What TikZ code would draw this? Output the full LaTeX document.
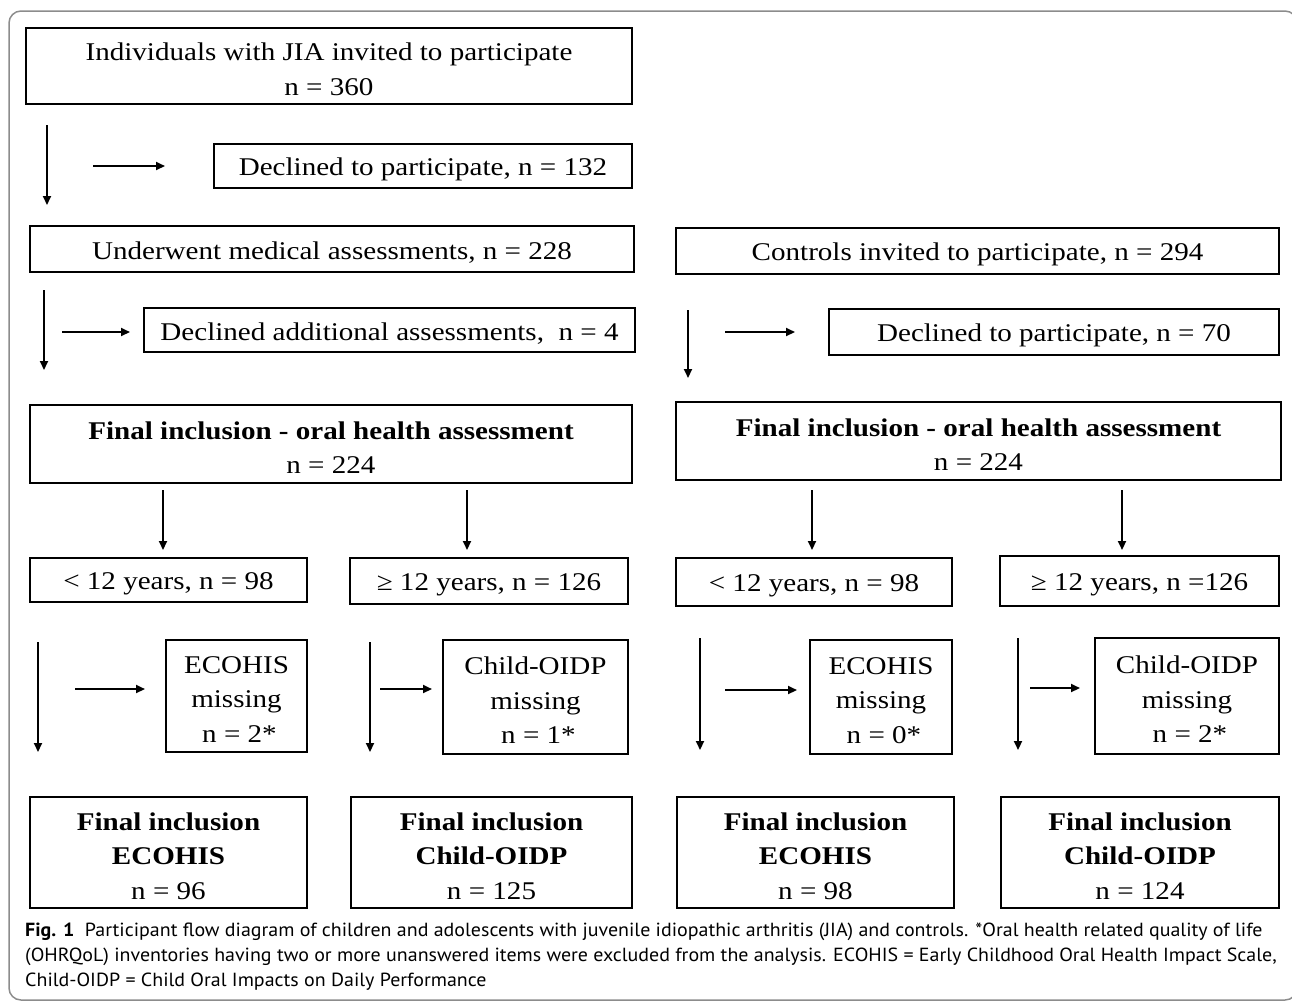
\documentclass[tikz,border=0pt]{standalone}
\usepackage{fontspec}
\setmainfont{Liberation Serif}[FakeStretch=1.14]
\newfontfamily\capfont{PT Sans}[FakeStretch=1.05]
\usetikzlibrary{arrows.meta}
\tikzset{
  box/.style={draw, line width=1.4pt, inner sep=0pt},
  boxtext/.style={inner sep=0pt, align=center, font=\fontsize{25.5}{34.5}\selectfont},
  arr/.style={line width=2pt, -{Triangle[length=9pt,width=8pt]}},
  captxt/.style={anchor=base west, inner sep=0pt, font=\capfont\fontsize{19}{22}\selectfont}
}
\newcommand{\bx}[6]{\node[box, minimum width=#4pt, minimum height=#5pt] (#1) at (#2,#3) {};
  \node[boxtext] (#1t) at ([yshift=-3.5pt]#1.center) {#6};}
\begin{document}
\begin{tikzpicture}[x=1pt,y=-1pt]
\useasboundingbox (0,0) rectangle (1292,1002);
\draw[black!45, line width=1.5pt, rounded corners=12pt] (9,11) rectangle (1297,1000);
% left column
\bx{b1}{329}{66}{606}{76}{Individuals with JIA invited to participate\\n = 360}
\bx{dec1}{423}{166}{418}{44}{Declined to participate, n = 132}
\bx{und}{332}{249}{604}{46}{Underwent medical assessments, n = 228}
\bx{dec2}{389.5}{330}{491}{44}{Declined additional assessments,\ \ n = 4}
\bx{finL}{331}{444}{602}{78}{\textbf{Final inclusion - oral health assessment}\\n = 224}
\bx{ltL}{168.5}{580}{277}{44}{< 12 years, n = 98}
\bx{geL}{489}{581}{278}{46}{≥ 12 years, n = 126}
\bx{ecoL}{236.5}{696}{141}{112}{ECOHIS\\missing\\\hspace*{6pt}n = 2*}
\bx{oidpL}{535.5}{697}{185}{114}{Child-OIDP\\missing\\\hspace*{6pt}n = 1*}
\bx{fEL}{168.5}{852.5}{277}{111}{\textbf{Final inclusion}\\\textbf{ECOHIS}\\n = 96}
\bx{fOL}{491.5}{852.5}{281}{111}{\textbf{Final inclusion}\\\textbf{Child-OIDP}\\n = 125}
% right column
\bx{con}{977.5}{251}{603}{46}{Controls invited to participate, n = 294}
\bx{dec3}{1054}{332}{450}{46}{Declined to participate, n = 70}
\bx{finR}{978.5}{441}{605}{78}{\textbf{Final inclusion - oral health assessment}\\n = 224}
\bx{ltR}{814}{582}{276}{48}{< 12 years, n = 98}
\bx{geR}{1139.5}{581}{279}{50}{≥ 12 years, n =126}
\bx{ecoR}{881}{697}{142}{114}{ECOHIS\\missing\\\hspace*{6pt}n = 0*}
\bx{oidpR}{1187}{696}{184}{116}{Child-OIDP\\missing\\\hspace*{6pt}n = 2*}
\bx{fER}{815.5}{852.5}{277}{111}{\textbf{Final inclusion}\\\textbf{ECOHIS}\\n = 98}
\bx{fOR}{1140}{852.5}{278}{111}{\textbf{Final inclusion}\\\textbf{Child-OIDP}\\n = 124}
% arrow end points
\foreach \n/\x/\y in {a1s/47/125, a1e/47/205, a2s/93/166, a2e/165/166,
  a3s/44/290, a3e/44/370, a4s/62/332, a4e/130/332,
  a5s/163/490, a5e/163/550, a6s/467/490, a6e/467/550,
  a7s/38/642, a7e/38/752, a8s/75/689, a8e/145/689,
  a9s/370/642, a9e/370/752, a10s/380/689, a10e/432/689,
  a11s/688/310, a11e/688/378, a12s/725/332, a12e/795/332,
  a13s/812/490, a13e/812/550, a14s/1122/490, a14e/1122/550,
  a15s/700/638, a15e/700/750, a16s/725/690, a16e/797/690,
  a17s/1018/638, a17e/1018/750, a18s/1030/688, a18e/1080/688}
  {\coordinate (\n) at (\x,\y);}
\foreach \i in {1,...,18} {\draw[arr] (a\i s) -- (a\i e);}
% caption
\node[captxt] (c1) at (25,936) {\textbf{Fig. 1}\ \ Participant flow diagram of children and adolescents with juvenile idiopathic arthritis (JIA) and controls. *Oral health related quality of life};
\node[captxt] (c2) at (25,961) {(OHRQoL) inventories having two or more unanswered items were excluded from the analysis. ECOHIS = Early Childhood Oral Health Impact Scale,};
\node[captxt] (c3) at (25,986) {Child-OIDP = Child Oral Impacts on Daily Performance};
\end{tikzpicture}
\end{document}
